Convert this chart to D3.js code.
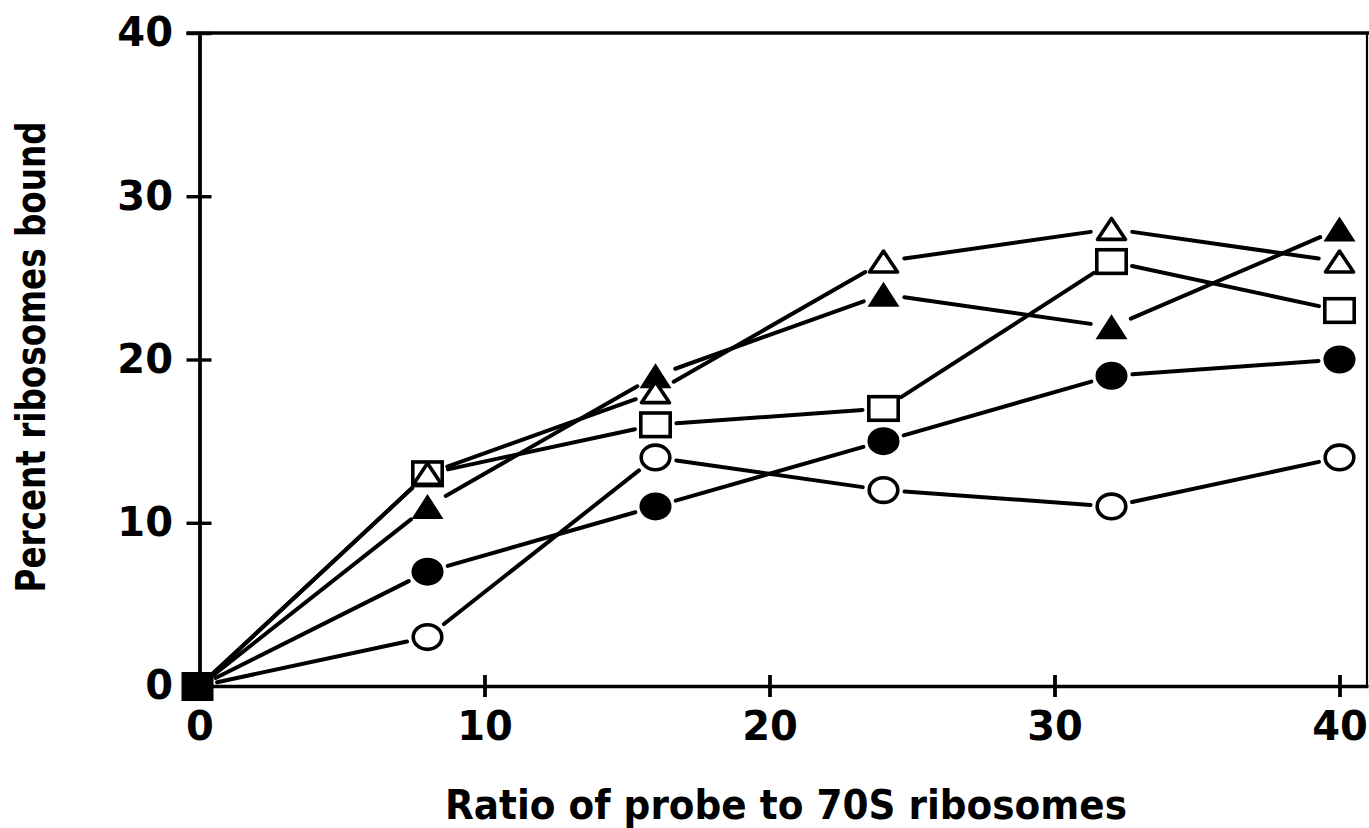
<!DOCTYPE html>
<html>
<head>
<meta charset="utf-8">
<script src="https://cdn.jsdelivr.net/npm/d3@7"></script>
<style>
  body { margin: 0; background: #fff; }
  svg { display: block; }
  text { font-family: "DejaVu Sans", sans-serif; font-weight: 700; fill: #000; }
</style>
</head>
<body>
<svg id="chart" width="1369" height="828"></svg>
<script>
// probe : ribosome ratio
var ratios = [0, 8, 16, 24, 32, 40];

// percent ribosomes bound, one array per marker
var openCircle     = [0, 3, 14, 12, 11, 14];
var filledCircle   = [0, 7, 11, 15, 19, 20];
var openSquare     = [0, 13, 16, 17, 26, 23];
var openTriangle   = [0, 13, 18, 26, 28, 26];
var filledTriangle = [0, 11, 19, 24, 22, 28];

var xTicks = [0, 10, 20, 30, 40];
var yTicks = [0, 10, 20, 30, 40];

var series = [
    {values: openCircle,     shape: 'circle',   filled: false},
    {values: filledCircle,   shape: 'circle',   filled: true},
    {values: openSquare,     shape: 'square',   filled: false},
    {values: filledTriangle, shape: 'triangle', filled: true},
    {values: openTriangle,   shape: 'triangle', filled: false}
];

var svg = d3.select('#chart');
svg.append('rect').attr('width', 1369).attr('height', 828).style('fill', '#fff');

var x = d3.scaleLinear().domain([0, 41]).range([199.5, 1368]);
var y = d3.scaleLinear().domain([0, 40]).range([686, 33]);

var axisStroke = 3.8;
var fontStack = '"DejaVu Sans", sans-serif';

// frame: top line (runs past the axis as the 40 tick) and thin right edge
svg.append('line')
    .attr('x1', x(0) - 13).attr('x2', 1369)
    .attr('y1', y(40)).attr('y2', y(40))
    .style('stroke', '#000').style('stroke-width', 3.4);
svg.append('line')
    .attr('x1', 1367).attr('x2', 1367)
    .attr('y1', y(40)).attr('y2', y(0))
    .style('stroke', '#000').style('stroke-width', 2.2);

// y axis
var yAxis = svg.append('g')
    .attr('transform', 'translate(' + x(0) + ',0)')
    .call(d3.axisLeft(y).tickValues(yTicks).tickSize(13).tickPadding(13.5).tickSizeOuter(0));
yAxis.select('.domain').style('stroke-width', axisStroke);
yAxis.selectAll('.tick line')
    .attr('x1', 12)
    .style('stroke-width', 3.4);
yAxis.selectAll('.tick text')
    .style('font-size', '40px')
    .style('font-family', fontStack)
    .style('font-weight', 700);

// x axis
var xAxis = svg.append('g')
    .attr('transform', 'translate(0,' + y(0) + ')')
    .call(d3.axisBottom(x).tickValues(xTicks).tickSize(11).tickPadding(15).tickSizeOuter(0));
xAxis.select('.domain').style('stroke-width', 3.4);
xAxis.selectAll('.tick line')
    .attr('y1', -11)
    .style('stroke-width', axisStroke);
xAxis.selectAll('.tick text')
    .style('font-size', '40px')
    .style('font-family', fontStack)
    .style('font-weight', 700);

// axis titles
svg.append('text')
    .attr('transform', 'translate(45,357) rotate(-90)')
    .attr('textLength', 471)
    .attr('lengthAdjust', 'spacingAndGlyphs')
    .style('text-anchor', 'middle')
    .style('font-size', '40px')
    .text('Percent ribosomes bound');

svg.append('text')
    .attr('x', 786)
    .attr('y', 819)
    .attr('textLength', 682)
    .attr('lengthAdjust', 'spacingAndGlyphs')
    .style('text-anchor', 'middle')
    .style('font-size', '40px')
    .text('Ratio of probe to 70S ribosomes');

// connecting lines, stopped short of each marker
var gap = 21;
var lines = svg.append('g');
series.forEach(function(s) {
    for (var i = 0; i < ratios.length - 1; i++) {
        var x1 = x(ratios[i]), y1 = y(s.values[i]);
        var x2 = x(ratios[i + 1]), y2 = y(s.values[i + 1]);
        var dx = x2 - x1, dy = y2 - y1;
        var len = Math.sqrt(dx * dx + dy * dy);
        var g1 = i === 0 ? 18 : gap;
        lines.append('line')
            .attr('x1', x1 + dx / len * g1)
            .attr('y1', y1 + dy / len * g1)
            .attr('x2', x2 - dx / len * gap)
            .attr('y2', y2 - dy / len * gap)
            .style('stroke', '#000')
            .style('stroke-width', 4)
            .style('stroke-linecap', 'round');
    }
});

// triangle with its bounding box centred on the point
function trianglePath(w, h) {
    return 'M0,' + (-h / 2) + 'L' + (w / 2) + ',' + (h / 2) + 'L' + (-w / 2) + ',' + (h / 2) + 'Z';
}

var markers = svg.append('g');
series.forEach(function(s) {
    s.values.forEach(function(v, i) {
        if (i === 0) return;
        var px = x(ratios[i]), py = y(v);
        var m;
        if (s.shape === 'circle') {
            m = markers.append('ellipse')
                .attr('cx', px).attr('cy', py)
                .attr('rx', s.filled ? 16 : 14.3)
                .attr('ry', s.filled ? 14 : 12.3);
        } else if (s.shape === 'square') {
            m = markers.append('rect')
                .attr('x', px - 14.7).attr('y', py - 11.8)
                .attr('width', 29.4).attr('height', 23.6);
        } else {
            m = markers.append('path')
                .attr('transform', 'translate(' + px + ',' + py + ')')
                .attr('d', s.filled ? trianglePath(32, 25) : trianglePath(28, 21))
                .style('stroke-linejoin', 'round');
        }
        if (s.filled) {
            m.style('fill', '#000');
        } else {
            m.style('fill', '#fff')
                .style('stroke', '#000')
                .style('stroke-width', 3.6);
        }
    });
});

// common starting point at the origin
markers.append('rect')
    .attr('x', x(0) - 18).attr('y', y(0) - 14)
    .attr('width', 32).attr('height', 29)
    .style('fill', '#000');
</script>
</body>
</html>
